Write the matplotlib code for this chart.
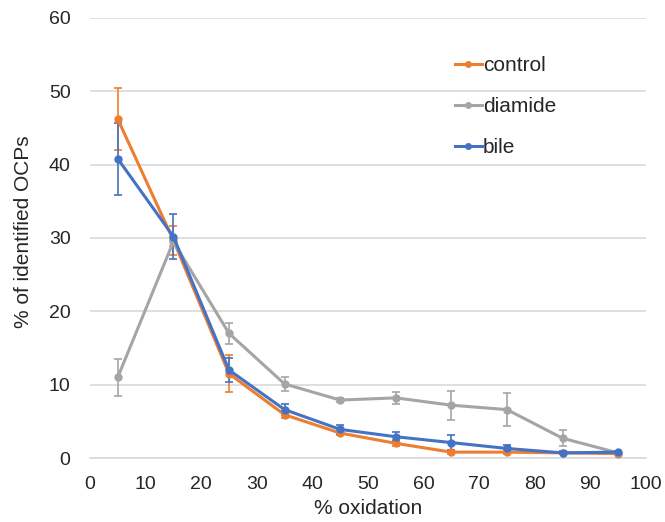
import matplotlib
matplotlib.use('Agg')
import matplotlib.pyplot as plt

# x positions (% oxidation bins)
oxidation = [5, 15, 25, 35, 45, 55, 65, 75, 85, 95]

control = [46.2, 29.7, 11.5, 5.9, 3.4, 2.0, 0.8, 0.8, 0.7, 0.6]
control_err = [4.2, 2.0, 2.5, 0.5, 0.3, 0.4, 0.3, 0.3, 0.2, 0.2]

diamide = [11.0, 29.5, 17.0, 10.1, 7.9, 8.2, 7.2, 6.6, 2.7, 0.7]
diamide_err = [2.5, 0.6, 1.4, 1.0, 0.3, 0.8, 2.0, 2.2, 1.1, 0.2]

bile = [40.8, 30.2, 12.0, 6.6, 3.9, 2.9, 2.1, 1.3, 0.7, 0.8]
bile_err = [4.9, 3.1, 1.6, 0.7, 0.6, 0.6, 1.0, 0.5, 0.2, 0.2]

series = [
    ('control', control, control_err, '#ED7D31'),
    ('diamide', diamide, diamide_err, '#A5A5A5'),
    ('bile', bile, bile_err, '#4472C4'),
]

plt.rcParams['font.family'] = ['Arial', 'Liberation Sans', 'DejaVu Sans']

fig = plt.figure(figsize=(6.65, 5.22), dpi=100)
ax = fig.add_axes([0.1353, 0.1226, 0.836, 0.843])

for name, vals, err, color in series:
    ax.errorbar(oxidation, vals, yerr=err, color=color, ecolor=color,
                linewidth=2.2, marker='o', markersize=5, capsize=3,
                elinewidth=1.2, capthick=1.2, label=name, zorder=3)

ax.set_xlim(0, 100)
ax.set_ylim(0, 60)
ax.set_xticks(range(0, 101, 10))
ax.set_yticks(range(0, 61, 10))
ax.grid(axis='y', color='#D9D9D9', linewidth=1.2, zorder=0)
ax.set_axisbelow(True)
for side in ['top', 'right', 'left']:
    ax.spines[side].set_visible(False)
ax.spines['bottom'].set_color('#D9D9D9')
ax.spines['bottom'].set_linewidth(1.2)
ax.tick_params(axis='both', length=0, labelsize=14, labelcolor='#262626')
ax.tick_params(axis='x', pad=13)
ax.tick_params(axis='y', pad=14)

ax.set_xlabel('% oxidation', fontsize=15, color='#262626', labelpad=4)
ax.set_ylabel('% of identified OCPs', fontsize=15, color='#262626')
ax.yaxis.set_label_coords(-0.102, 0.515)

handles = []
for name, vals, err, color in series:
    h, = ax.plot([], [], color=color, linewidth=2.2, marker='o', markersize=4)
    handles.append(h)
leg = ax.legend(handles, [s[0] for s in series], loc='upper left',
                bbox_to_anchor=(0.656, 0.913), frameon=False, fontsize=15,
                handlelength=1.3, handletextpad=0.05, labelspacing=1.05,
                borderpad=0, borderaxespad=0)
for t in leg.get_texts():
    t.set_color('#262626')

fig.savefig('out.png', dpi=100)
